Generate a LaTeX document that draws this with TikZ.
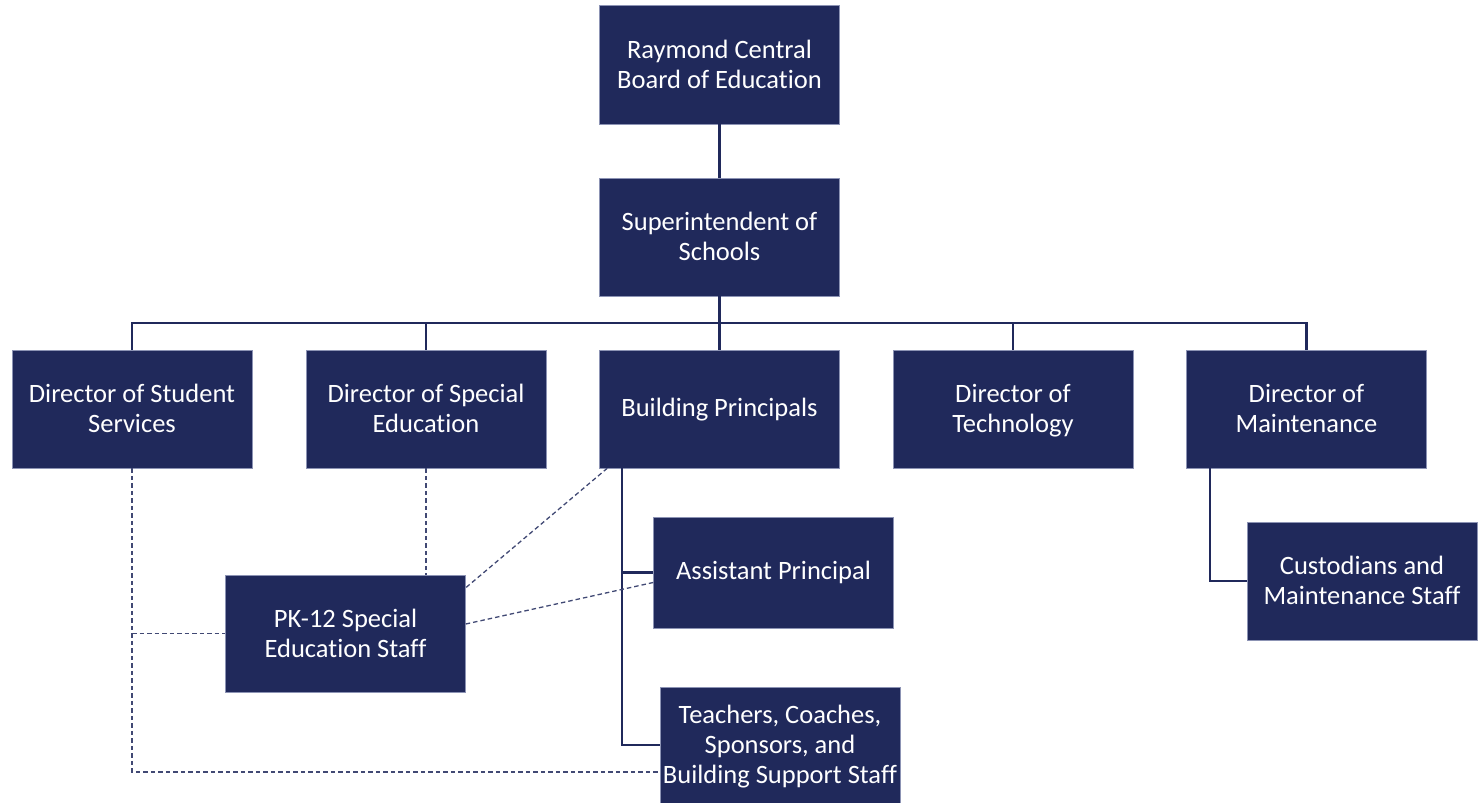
\documentclass[tikz,border=0pt]{standalone}
\usepackage{fontspec}
\setmainfont{Carlito}[Ligatures=NoCommon]
\definecolor{navy}{HTML}{20295B}
\definecolor{rim}{HTML}{8C93B4}

\tikzset{
  orgbox/.style={fill=navy,draw=rim,line width=0.6pt,text=white,align=center,
    inner sep=0pt,minimum width=240pt,minimum height=118pt,text depth=1pt,
    font=\fontsize{26.5}{30}\selectfont},
  oneline/.style={text depth=4pt},
  solidline/.style={draw=navy,line width=2.2pt},
  dotline/.style={draw=navy!85!white,line width=1.3pt,dash pattern=on 4.5pt off 3pt}
}

\begin{document}
\begin{tikzpicture}[x=1pt,y=-1pt]

\useasboundingbox (0,0) rectangle (1478,803);

\node [orgbox,minimum height=119pt] (board) at (719.5,64.5) {Raymond Central\\Board of Education};
\node [orgbox] (supt) at (719.5,237) {Superintendent of\\Schools};

\node [orgbox] (stud)  at (132,409)    {Director of Student\\Services};
\node [orgbox] (sped)  at (426,409)    {Director of Special\\Education};
\node [orgbox,oneline] (princ) at (719.5,409)  {Building Principals};
\node [orgbox] (tech)  at (1013,409)   {Director of\\Technology};
\node [orgbox] (maint) at (1306.5,409) {Director of\\Maintenance};

\node [orgbox,oneline,minimum height=111pt] (asst) at (773.5,572.5) {Assistant Principal};
\node [orgbox,minimum height=116pt] (teach) at (780,745) {Teachers, Coaches,\\Sponsors, and\\Building Support Staff};
\node [orgbox,minimum height=117pt] (pkstaff) at (345.5,633.5) {PK-12 Special\\Education Staff};
\node [orgbox,minimum width=230pt] (cust) at (1362,581) {Custodians and\\Maintenance Staff};

\coordinate (bus) at (719.5,323);
\coordinate (ptrunk) at (622,468);
\coordinate (mtrunk) at (1210,468);
\coordinate (sslow) at (132,772);

% solid reporting lines
\path [solidline] (board) -- (supt);
\foreach \b in {stud,sped,princ,tech,maint}
  \path [solidline] (supt.south) -- (bus) -| (\b.north);
\path [solidline] (ptrunk) |- (asst.west);
\path [solidline] (ptrunk) |- (teach.west);
\path [solidline] (mtrunk) |- (cust.west);

% dashed lines
\path [dotline] (stud.south) -- (sslow) -- (sslow -| teach.west);
\path [dotline] (stud.south |- pkstaff.west) -- (pkstaff.west);
\path [dotline] (sped.south) -- (sped.south |- pkstaff.north);
\path [dotline] ([xshift=8pt]princ.south west) -- ([yshift=-13pt]pkstaff.north east);
\path [dotline] ([yshift=-10pt]asst.west) -- ([yshift=9.5pt]pkstaff.east);

\end{tikzpicture}
\end{document}
